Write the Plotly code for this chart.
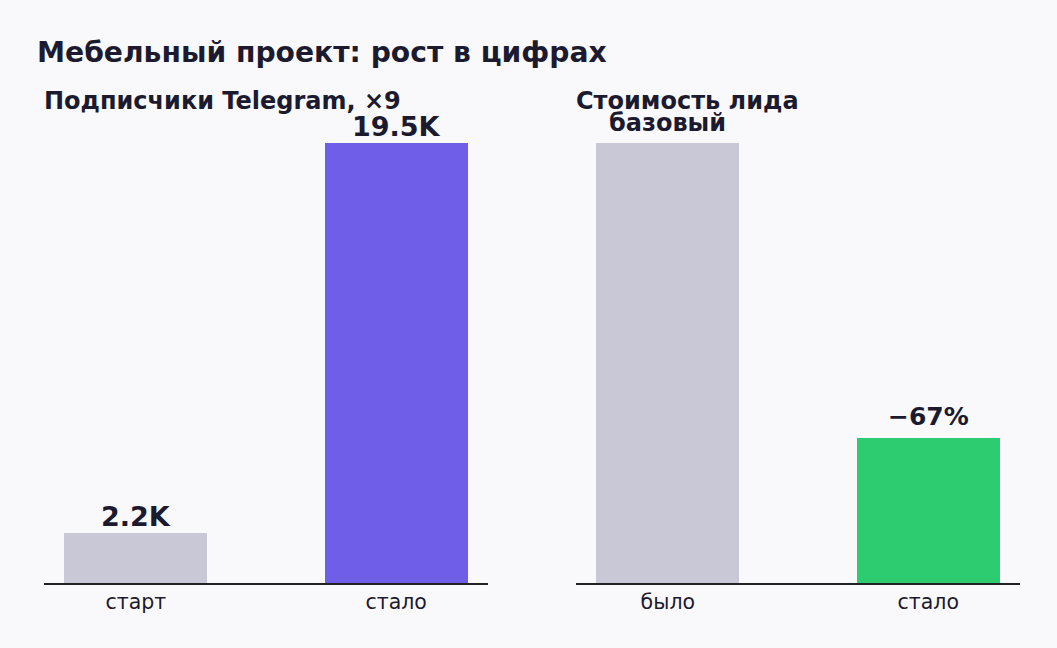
import plotly.graph_objects as go

# data
tg_cats = ["старт", "стало"]
tg_vals = [2200, 19500]
tg_labels = ["2.2K", "19.5K"]

cpl_cats = ["было", "стало"]
cpl_vals = [100, 33]
cpl_labels = ["базовый", "−67%"]

TXT = "#1c1a2e"
BG = "#f9f9fc"
FONT = "DejaVu Sans"

fig = go.Figure()
fig.add_trace(go.Bar(x=tg_cats, y=tg_vals, width=0.55,
                     marker=dict(color=["#c9c8d6", "#6e5ee8"], line_width=0),
                     xaxis="x", yaxis="y", hoverinfo="skip"))
fig.add_trace(go.Bar(x=cpl_cats, y=cpl_vals, width=0.55,
                     marker=dict(color=["#c9c8d6", "#2ecc71"], line_width=0),
                     xaxis="x2", yaxis="y2", hoverinfo="skip"))

annotations = []
for c, v, t in zip(tg_cats, tg_vals, tg_labels):
    annotations.append(dict(x=c, y=v, xref="x", yref="y", text="<b>%s</b>" % t,
                            showarrow=False, yanchor="bottom", yshift=-1,
                            font=dict(size=27, color=TXT, family=FONT)))
for c, v, t, s, sh in zip(cpl_cats, cpl_vals, cpl_labels, [24, 25], [4, 5]):
    annotations.append(dict(x=c, y=v, xref="x2", yref="y2", text="<b>%s</b>" % t,
                            showarrow=False, yanchor="bottom", yshift=sh,
                            font=dict(size=s, color=TXT, family=FONT)))

# subplot titles
annotations.append(dict(x=0, y=1.0433, xref="paper", yref="paper", xanchor="left",
                        yanchor="middle", showarrow=False, xshift=-2,
                        text="<b>Подписчики Telegram, ×9</b>",
                        font=dict(size=24, color=TXT, family=FONT)))
annotations.append(dict(x=0.5451, y=1.0433, xref="paper", yref="paper", xanchor="left",
                        yanchor="middle", showarrow=False, xshift=-2,
                        text="<b>Стоимость лида</b>",
                        font=dict(size=24, color=TXT, family=FONT)))

xax = dict(type="category", range=[-0.3525, 1.3525], showline=True, linecolor="#222222",
           linewidth=1.6, ticks="", showgrid=False, zeroline=False, fixedrange=True,
           tickfont=dict(size=20.5, color=TXT, family=FONT))
yax = dict(visible=False, showgrid=False, zeroline=False, fixedrange=True)

fig.update_layout(
    width=1057, height=648,
    paper_bgcolor=BG, plot_bgcolor=BG,
    margin=dict(l=44, r=37, t=121, b=65),
    showlegend=False,
    bargap=0,
    title=dict(text="<b>Мебельный проект: рост в цифрах</b>", x=37 / 1057, xanchor="left",
               xref="container", y=1 - 52 / 648, yanchor="middle", yref="container",
               font=dict(size=28.2, color=TXT, family=FONT)),
    xaxis=dict(xax, domain=[0, 0.4549], anchor="y"),
    xaxis2=dict(xax, domain=[0.5451, 1], anchor="y2"),
    yaxis=dict(yax, range=[0, max(tg_vals) * 1.05], anchor="x"),
    yaxis2=dict(yax, range=[0, max(cpl_vals) * 1.05], anchor="x2"),
    annotations=annotations,
)

fig.write_html("out.html", config={"displayModeBar": False},
               post_script="document.body.style.margin='0';")
